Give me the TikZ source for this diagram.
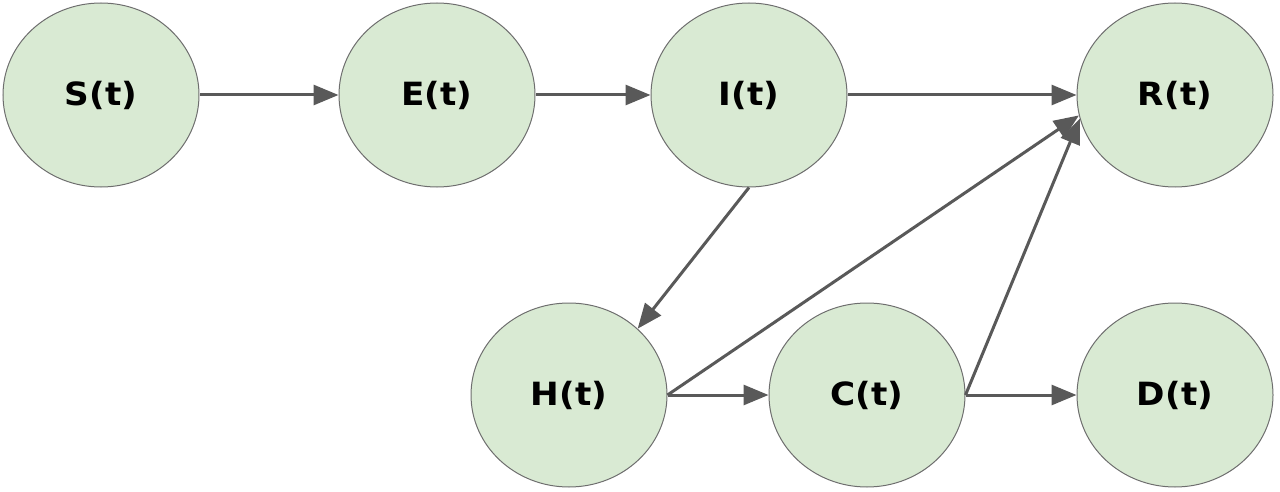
\documentclass[tikz,border=0pt]{standalone}
\usepackage{fontspec}
\setmainfont{DejaVu Sans}
\newfontfamily\lblfont[FakeStretch=1.07]{DejaVu Sans Bold}
\usetikzlibrary{shapes.geometric,arrows.meta}
\definecolor{nodefill}{HTML}{D9EAD3}
\definecolor{nodeedge}{HTML}{6E6E6E}
\definecolor{arrowcol}{HTML}{595959}
\tikzset{
  state/.style={ellipse, draw=nodeedge, line width=1pt, fill=nodefill,
    minimum width=196pt, minimum height=184pt, inner sep=0pt,
    font=\lblfont\fontsize{32}{36}\selectfont, text=black},
  flow/.style={draw=arrowcol, line width=3pt,
    -{Triangle[length=25pt,width=20pt]}}
}
\begin{document}
\begin{tikzpicture}[x=1pt,y=-1pt]
\useasboundingbox (0,0) rectangle (1280,492);
\node[state] (S) at (101,95) {S(t)};
\node[state] (E) at (437,95) {E(t)};
\node[state] (I) at (749,95) {I(t)};
\node[state] (R) at (1175,95) {R(t)};
\node[state] (H) at (569,395) {H(t)};
\node[state] (C) at (867,395) {C(t)};
\node[state] (D) at (1175,395) {D(t)};
\draw[flow] (S.east) -- (E.west);
\draw[flow] (E.east) -- (I.west);
\draw[flow] (I.east) -- (R.west);
\draw[flow] (I.south) -- (H.44);
\draw[flow] (H.east) -- (R.192);
\draw[flow] (H.east) -- (C.west);
\draw[flow] (C.east) -- (R.194);
\draw[flow] (C.east) -- (D.west);
\end{tikzpicture}
\end{document}
